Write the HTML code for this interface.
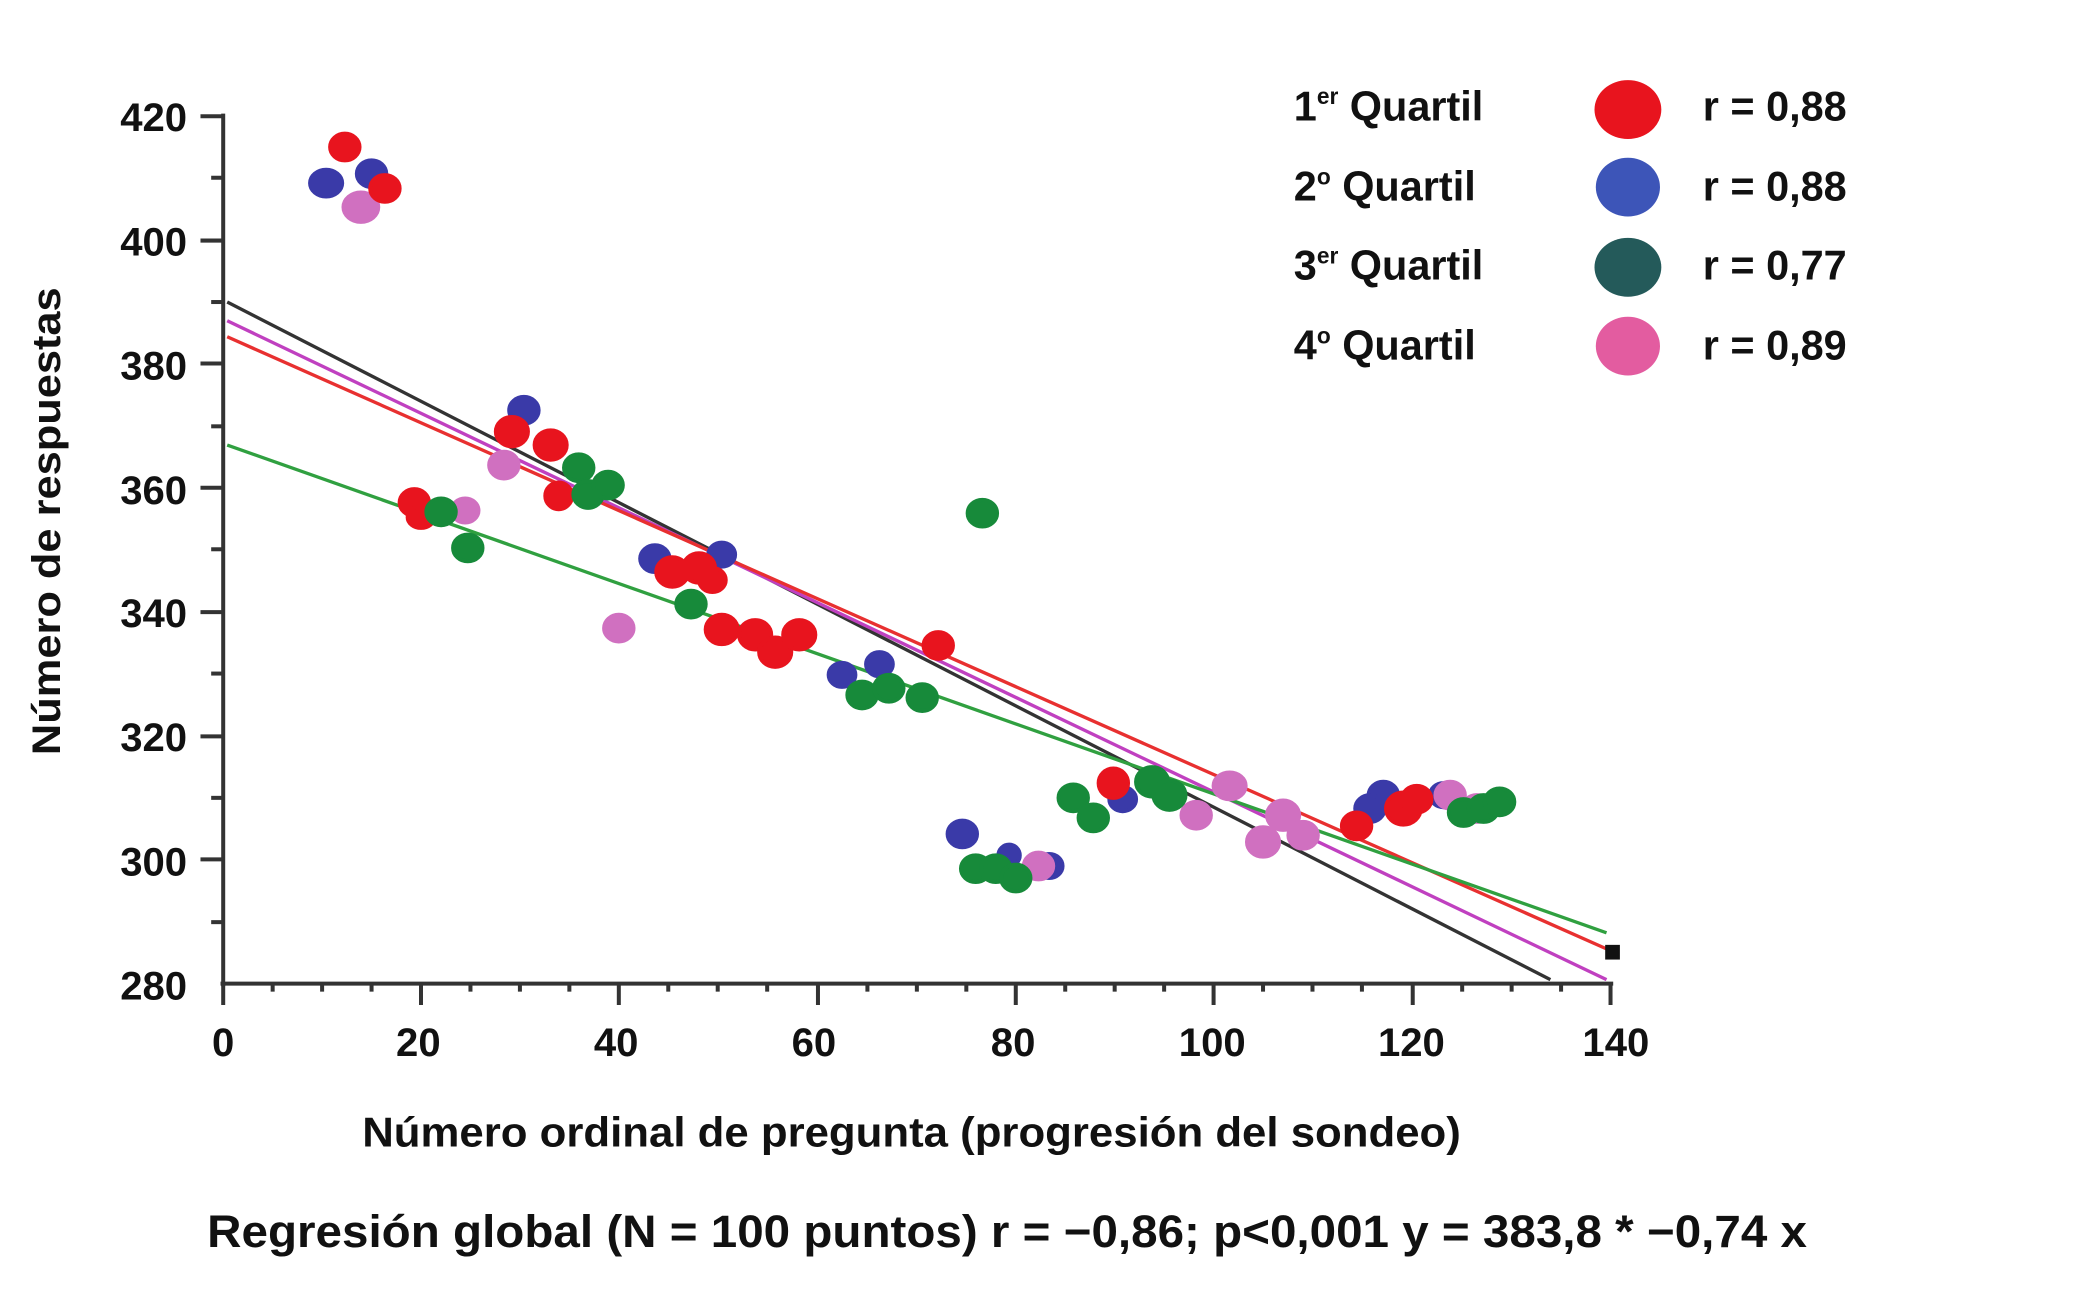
<!DOCTYPE html>
<html><head><meta charset="utf-8"><style>html,body{margin:0;padding:0;background:#fff}svg{display:block}</style></head>
<body>
<svg width="2085" height="1291" viewBox="0 0 1560 966" preserveAspectRatio="none" xmlns="http://www.w3.org/2000/svg" font-family="Liberation Sans, sans-serif" font-weight="bold">
<rect width="1560" height="966" fill="#fff"/>
<g stroke="#333" stroke-width="3" fill="none">
<line x1="167" y1="85" x2="167" y2="738"/>
<line x1="165" y1="736" x2="1207" y2="736"/>
</g>
<g stroke="#333" stroke-width="3">
<line x1="150" y1="87" x2="167" y2="87"/><line x1="150" y1="180" x2="167" y2="180"/><line x1="150" y1="272" x2="167" y2="272"/><line x1="150" y1="365" x2="167" y2="365"/><line x1="150" y1="458" x2="167" y2="458"/><line x1="150" y1="551" x2="167" y2="551"/><line x1="150" y1="643" x2="167" y2="643"/>
<line x1="158" y1="133" x2="167" y2="133"/><line x1="158" y1="226" x2="167" y2="226"/><line x1="158" y1="319" x2="167" y2="319"/><line x1="158" y1="411" x2="167" y2="411"/><line x1="158" y1="504" x2="167" y2="504"/><line x1="158" y1="597" x2="167" y2="597"/><line x1="158" y1="690" x2="167" y2="690"/>
</g>
<g font-size="30" text-anchor="end" fill="#111">
<text x="140" y="98">420</text><text x="140" y="191">400</text><text x="140" y="284">380</text><text x="140" y="377">360</text><text x="140" y="469">340</text><text x="140" y="562">320</text><text x="140" y="655">300</text><text x="140" y="748">280</text>
</g>
<g font-size="30" text-anchor="middle" fill="#111">
<text x="167" y="790">0</text><text x="313" y="790">20</text><text x="461" y="790">40</text><text x="609" y="790">60</text><text x="758" y="790">80</text><text x="907" y="790">100</text><text x="1056" y="790">120</text><text x="1209" y="790">140</text>
</g>
<text x="682" y="858" font-size="31" text-anchor="middle" textLength="822" lengthAdjust="spacingAndGlyphs" fill="#111">Número ordinal de pregunta (progresión del sondeo)</text>
<text x="155" y="933" font-size="34" textLength="1197" lengthAdjust="spacingAndGlyphs" fill="#111">Regresión global (N = 100 puntos) r = −0,86; p&lt;0,001 y = 383,8 * −0,74 x</text>
<text transform="translate(45,390) rotate(-90)" font-size="30" text-anchor="middle" textLength="350" lengthAdjust="spacingAndGlyphs" fill="#111">Número de respuestas</text>
<g stroke-width="2.5" fill="none">
<line x1="170" y1="226" x2="1160" y2="733" stroke="#333"/>
<line x1="170" y1="240" x2="1202" y2="733" stroke="#c040c0"/>
<line x1="170" y1="252" x2="1202" y2="710" stroke="#e83030"/>
<line x1="170" y1="333" x2="1202" y2="698" stroke="#30a040"/>
</g>
<rect x="1201" y="707" width="11" height="11" fill="#111"/>
<g fill="#3a3aa8" stroke="#3a3aa8" stroke-width="3">
<ellipse cx="244" cy="137" rx="12" ry="10"/><ellipse cx="278" cy="130" rx="11" ry="10"/><ellipse cx="392" cy="307" rx="11" ry="10"/><ellipse cx="490" cy="418" rx="11" ry="10"/><ellipse cx="540" cy="415" rx="10" ry="9"/><ellipse cx="630" cy="505" rx="10" ry="9"/><ellipse cx="658" cy="497" rx="10" ry="9"/><ellipse cx="720" cy="624" rx="11" ry="10"/><ellipse cx="755" cy="640" rx="8" ry="8"/><ellipse cx="785" cy="648" rx="10" ry="9"/><ellipse cx="840" cy="598" rx="10" ry="9"/><ellipse cx="1035" cy="595" rx="11" ry="10"/><ellipse cx="1025" cy="605" rx="11" ry="10"/><ellipse cx="1080" cy="595" rx="10" ry="9"/>
</g>
<g fill="#d070c0" stroke="#d070c0" stroke-width="3">
<ellipse cx="270" cy="155" rx="13" ry="11"/><ellipse cx="348" cy="382" rx="10" ry="9"/><ellipse cx="377" cy="348" rx="11" ry="10"/><ellipse cx="463" cy="470" rx="11" ry="10"/><ellipse cx="777" cy="648" rx="11" ry="10"/><ellipse cx="895" cy="610" rx="11" ry="10"/><ellipse cx="920" cy="588" rx="12" ry="10"/><ellipse cx="945" cy="630" rx="12" ry="11"/><ellipse cx="960" cy="610" rx="12" ry="11"/><ellipse cx="975" cy="625" rx="11" ry="10"/><ellipse cx="1085" cy="595" rx="11" ry="10"/><ellipse cx="1105" cy="605" rx="11" ry="10"/>
</g>
<g fill="#e8141e" stroke="#e8141e" stroke-width="3">
<ellipse cx="258" cy="110" rx="11" ry="10"/><ellipse cx="288" cy="141" rx="11" ry="10"/><ellipse cx="310" cy="376" rx="11" ry="10"/><ellipse cx="315" cy="387" rx="10" ry="8"/><ellipse cx="383" cy="323" rx="12" ry="11"/><ellipse cx="412" cy="333" rx="12" ry="11"/><ellipse cx="418" cy="371" rx="10" ry="10"/><ellipse cx="503" cy="428" rx="12" ry="11"/><ellipse cx="523" cy="425" rx="12" ry="11"/><ellipse cx="533" cy="434" rx="10" ry="9"/><ellipse cx="540" cy="471" rx="12" ry="11"/><ellipse cx="565" cy="475" rx="12" ry="11"/><ellipse cx="580" cy="488" rx="12" ry="11"/><ellipse cx="598" cy="475" rx="12" ry="11"/><ellipse cx="702" cy="483" rx="11" ry="10"/><ellipse cx="833" cy="586" rx="11" ry="11"/><ellipse cx="1015" cy="618" rx="11" ry="10"/><ellipse cx="1050" cy="605" rx="13" ry="12"/><ellipse cx="1060" cy="598" rx="11" ry="10"/>
</g>
<g fill="#178a3a" stroke="#178a3a" stroke-width="3">
<ellipse cx="330" cy="383" rx="11" ry="10"/><ellipse cx="350" cy="410" rx="11" ry="10"/><ellipse cx="433" cy="350" rx="11" ry="10"/><ellipse cx="440" cy="370" rx="11" ry="10"/><ellipse cx="455" cy="363" rx="11" ry="10"/><ellipse cx="517" cy="452" rx="11" ry="10"/><ellipse cx="645" cy="520" rx="11" ry="10"/><ellipse cx="665" cy="515" rx="11" ry="10"/><ellipse cx="690" cy="522" rx="11" ry="10"/><ellipse cx="735" cy="384" rx="11" ry="10"/><ellipse cx="730" cy="650" rx="11" ry="10"/><ellipse cx="745" cy="650" rx="11" ry="10"/><ellipse cx="760" cy="657" rx="11" ry="10"/><ellipse cx="803" cy="597" rx="11" ry="10"/><ellipse cx="818" cy="612" rx="11" ry="10"/><ellipse cx="862" cy="585" rx="12" ry="11"/><ellipse cx="875" cy="595" rx="12" ry="11"/><ellipse cx="1095" cy="608" rx="11" ry="10"/><ellipse cx="1110" cy="605" rx="11" ry="10"/><ellipse cx="1122" cy="600" rx="11" ry="10"/>
</g>
<g font-size="31" fill="#111">
<text x="968" y="90">1<tspan font-size="17" dy="-12">er</tspan><tspan dy="12"> Quartil</tspan></text>
<text x="968" y="150">2<tspan font-size="17" dy="-12">o</tspan><tspan dy="12"> Quartil</tspan></text>
<text x="968" y="209">3<tspan font-size="17" dy="-12">er</tspan><tspan dy="12"> Quartil</tspan></text>
<text x="968" y="269">4<tspan font-size="17" dy="-12">o</tspan><tspan dy="12"> Quartil</tspan></text>
<text x="1274" y="90">r = 0,88</text><text x="1274" y="150">r = 0,88</text><text x="1274" y="209">r = 0,77</text><text x="1274" y="269">r = 0,89</text>
</g>
<ellipse cx="1218" cy="82" rx="25" ry="22" fill="#e8141e"/>
<ellipse cx="1218" cy="140" rx="24" ry="22" fill="#3d55b8"/>
<ellipse cx="1218" cy="200" rx="25" ry="22" fill="#245a5a"/>
<ellipse cx="1218" cy="259" rx="24" ry="22" fill="#e35ca0"/>
<g stroke="#333" stroke-width="3">
<line x1="167" y1="736" x2="167" y2="752"/><line x1="315" y1="736" x2="315" y2="752"/><line x1="463" y1="736" x2="463" y2="752"/><line x1="612" y1="736" x2="612" y2="752"/><line x1="760" y1="736" x2="760" y2="752"/><line x1="908" y1="736" x2="908" y2="752"/><line x1="1057" y1="736" x2="1057" y2="752"/><line x1="1205" y1="736" x2="1205" y2="752"/>
<line x1="204" y1="736" x2="204" y2="742"/><line x1="241" y1="736" x2="241" y2="742"/><line x1="278" y1="736" x2="278" y2="742"/><line x1="352" y1="736" x2="352" y2="742"/><line x1="389" y1="736" x2="389" y2="742"/><line x1="426" y1="736" x2="426" y2="742"/><line x1="500" y1="736" x2="500" y2="742"/><line x1="537" y1="736" x2="537" y2="742"/><line x1="574" y1="736" x2="574" y2="742"/><line x1="649" y1="736" x2="649" y2="742"/><line x1="686" y1="736" x2="686" y2="742"/><line x1="723" y1="736" x2="723" y2="742"/><line x1="797" y1="736" x2="797" y2="742"/><line x1="834" y1="736" x2="834" y2="742"/><line x1="871" y1="736" x2="871" y2="742"/><line x1="945" y1="736" x2="945" y2="742"/><line x1="982" y1="736" x2="982" y2="742"/><line x1="1019" y1="736" x2="1019" y2="742"/><line x1="1094" y1="736" x2="1094" y2="742"/><line x1="1131" y1="736" x2="1131" y2="742"/><line x1="1168" y1="736" x2="1168" y2="742"/>
</g>
</svg>
</body></html>
